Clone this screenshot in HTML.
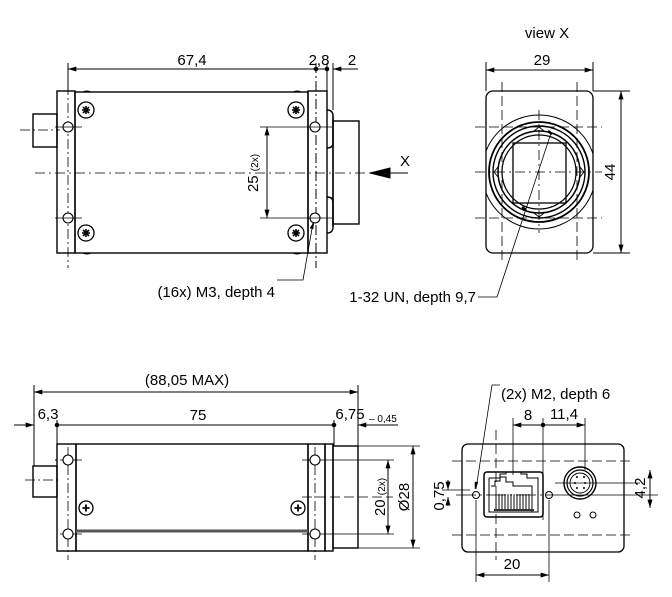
<!DOCTYPE html>
<html><head><meta charset="utf-8"><style>
html,body{margin:0;padding:0;background:#fff;}
svg{display:block}
text{font-family:"Liberation Sans","DejaVu Sans",sans-serif;fill:#000;}
</style></head><body>
<svg width="672" height="597" viewBox="0 0 672 597" xmlns="http://www.w3.org/2000/svg">
<defs>
<marker id="ar" viewBox="0 0 10 6" refX="10" refY="3" markerWidth="14" markerHeight="5" markerUnits="userSpaceOnUse" orient="auto-start-reverse"><path d="M0,0L10,3L0,6z" fill="#000"/></marker>
<g id="scr"><circle r="8" fill="#fff" stroke="#000" stroke-width="1.3"/><path d="M-4,0H4M0,-4V4M-3,-3L3,3M-3,3L3,-3" stroke="#000" stroke-width="1.6"/></g>
<g id="scr2"><circle r="7" fill="#fff" stroke="#000" stroke-width="1.3"/><path d="M-3.5,0H3.5M0,-3.5V3.5" stroke="#000" stroke-width="1.8"/></g>
</defs>
<g fill="none" stroke="#000" stroke-width="1">
<!-- ===== TOP LEFT ===== -->
<line x1="68" y1="69" x2="316" y2="69" marker-start="url(#ar)"/>
<line x1="316" y1="69" x2="327" y2="69"/>
<line x1="333" y1="69" x2="358" y2="69" marker-start="url(#ar)"/>
<line x1="68" y1="63" x2="68" y2="90"/>
<line x1="316" y1="63" x2="316" y2="268" stroke-dasharray="10,3,2,3"/>
<line x1="327" y1="63" x2="327" y2="91"/>
<line x1="333" y1="63" x2="333" y2="110"/>
<circle cx="316" cy="69" r="1.8" fill="#000"/><circle cx="327" cy="69" r="1.8" fill="#000"/>
<line x1="68" y1="85" x2="68" y2="268" stroke-dasharray="10,3,2,3" stroke-width="0.8"/>
<g stroke-width="1.4">
<rect x="57" y="91" width="18" height="162"/>
<rect x="75" y="92" width="233" height="161"/>
<rect x="308" y="91" width="19" height="162"/>
<path d="M327,110 q6,0 6,6 V143 q0,5 -6,5"/>
<path d="M327,197 q6,0 6,5 V227 q0,6 -6,6"/>
<line x1="333" y1="116" x2="333" y2="227"/>
<rect x="333" y="121" width="26" height="103"/>
<rect x="33" y="114" width="24" height="33"/>
</g>
<path d="M83,92 q4,-2 8,0 M293,92 q4,-2 8,0 M83,253 q4,2 8,0 M293,253 q4,2 8,0" stroke-width="1"/>
<line x1="20" y1="130" x2="60" y2="130" stroke-dasharray="10,3,2,3" stroke-width="0.8"/>
<g stroke-width="1.1"><circle cx="68" cy="127" r="5" fill="#fff"/><circle cx="68" cy="218" r="5" fill="#fff"/><circle cx="315" cy="127" r="5" fill="#fff"/><circle cx="315" cy="218" r="5" fill="#fff"/></g>
<g stroke-width="0.8"><line x1="55" y1="127" x2="82" y2="127"/><line x1="55" y1="218" x2="82" y2="218"/></g>
<use href="#scr" x="86" y="110"/><use href="#scr" x="86" y="233"/><use href="#scr" x="296" y="110"/><use href="#scr" x="296" y="233"/>
<line x1="35" y1="173" x2="370" y2="173" stroke-dasharray="10,4,2,4" stroke-width="0.8"/>
<line x1="390" y1="173" x2="408" y2="173"/>
<path d="M370,173 L390,168 L390,178z" fill="#000"/>
<line x1="260" y1="127" x2="332" y2="127" stroke-width="0.8"/>
<line x1="260" y1="218" x2="332" y2="218" stroke-width="0.8"/>
<line x1="267" y1="127" x2="267" y2="218" marker-start="url(#ar)" marker-end="url(#ar)"/>
<path d="M313,223 L303,280 L277,280" stroke-width="0.8"/>
<path d="M314,222 l-4,6 l3,1z" fill="#000" stroke-width="0.5"/>

<!-- ===== TOP RIGHT ===== -->
<line x1="486" y1="70" x2="593" y2="70" marker-start="url(#ar)" marker-end="url(#ar)"/>
<line x1="486" y1="62" x2="486" y2="91"/><line x1="593" y1="62" x2="593" y2="91"/>
<rect x="486" y="91" width="107" height="162" rx="7" stroke-width="1.3"/>
<g stroke-dasharray="10,4" stroke-width="0.8">
<line x1="502" y1="82" x2="502" y2="262"/><line x1="577" y1="82" x2="577" y2="262"/>
<line x1="475" y1="127" x2="602" y2="127"/><line x1="475" y1="218" x2="602" y2="218"/>
</g>
<clipPath id="cb"><rect x="486" y="91" width="107" height="162"/></clipPath>
<circle cx="539" cy="172" r="57" clip-path="url(#cb)" stroke-width="1"/>
<circle cx="539" cy="172" r="50" stroke-width="1.8"/>
<circle cx="539" cy="172" r="46" stroke-width="1.4"/>
<rect x="513" y="143" width="53" height="60" stroke-width="1.3"/>
<circle cx="539" cy="172" r="41" stroke-width="1.5"/>
<circle cx="539" cy="172" r="37" stroke-width="1.2"/>
<path d="M534,131 l5,-4 l5,4 M534,213 l5,4 l5,-4 M498,167 l-4,5 l4,5 M580,167 l4,5 l-4,5" stroke-width="0.9"/>
<g stroke-dasharray="10,4,2,4" stroke-width="0.8">
<line x1="475" y1="172" x2="602" y2="172"/><line x1="539" y1="110" x2="539" y2="233"/>
</g>
<line x1="593" y1="91" x2="630" y2="91"/><line x1="593" y1="253" x2="630" y2="253"/>
<line x1="621" y1="91" x2="621" y2="253" marker-start="url(#ar)" marker-end="url(#ar)"/>
<path d="M551,133 L497,297 L478,297" stroke-width="0.8"/>
<path d="M548,131 l4,3 M522,207 l4,3" stroke-width="2.5"/>

<!-- ===== BOTTOM LEFT ===== -->
<line x1="34" y1="392" x2="358" y2="392" marker-start="url(#ar)" marker-end="url(#ar)"/>
<line x1="34" y1="385" x2="34" y2="466"/>
<line x1="358" y1="385" x2="358" y2="446"/>
<line x1="14" y1="425" x2="34" y2="425" marker-end="url(#ar)"/>
<line x1="57" y1="425" x2="334" y2="425"/>
<line x1="358" y1="425" x2="398" y2="425" marker-start="url(#ar)"/>
<circle cx="57" cy="425" r="1.8" fill="#000"/><circle cx="334" cy="425" r="1.8" fill="#000"/>
<line x1="57" y1="420" x2="57" y2="444"/><line x1="334" y1="420" x2="334" y2="446"/>
<g stroke-width="1.4">
<rect x="57" y="444" width="19" height="107"/>
<rect x="76" y="444" width="232" height="107"/>
<rect x="308" y="444" width="17" height="107"/>
<rect x="325" y="444" width="8" height="107"/>
<rect x="333" y="446" width="25" height="102"/>
<rect x="33" y="466" width="24" height="31"/>
</g>
<line x1="55" y1="460" x2="57" y2="460"/>
<line x1="76" y1="531" x2="308" y2="531" stroke="#555" stroke-width="3"/>
<line x1="25" y1="480" x2="60" y2="480" stroke-dasharray="10,3,2,3" stroke-width="0.8"/>
<g stroke-width="0.8" stroke-dasharray="10,3,2,3"><line x1="68" y1="447" x2="68" y2="560"/><line x1="315" y1="447" x2="315" y2="560"/></g>
<g stroke-width="0.8"><line x1="60" y1="460" x2="82" y2="460"/><line x1="60" y1="534" x2="82" y2="534"/><line x1="302" y1="460" x2="394" y2="460"/><line x1="302" y1="534" x2="394" y2="534"/></g>
<g stroke-width="1.1"><circle cx="68" cy="460" r="5" fill="#fff"/><circle cx="68" cy="534" r="5" fill="#fff"/><circle cx="315" cy="460" r="5" fill="#fff"/><circle cx="315" cy="534" r="5" fill="#fff"/></g>
<use href="#scr2" x="86" y="508"/><use href="#scr2" x="298" y="508"/>
<line x1="302" y1="497" x2="393" y2="497" stroke-dasharray="10,4" stroke-width="0.8"/>
<line x1="388" y1="460" x2="388" y2="534" marker-start="url(#ar)" marker-end="url(#ar)"/>
<line x1="358" y1="446" x2="420" y2="446" stroke-width="0.8"/><line x1="358" y1="548" x2="420" y2="548" stroke-width="0.8"/>
<line x1="413" y1="446" x2="413" y2="548" marker-start="url(#ar)" marker-end="url(#ar)"/>

<!-- ===== BOTTOM RIGHT ===== -->
<rect x="462" y="444" width="162" height="108" rx="6" stroke-width="1.3"/>
<g stroke-dasharray="10,4" stroke-width="0.8">
<line x1="452" y1="461" x2="634" y2="461"/><line x1="452" y1="535" x2="634" y2="535"/>
<line x1="496" y1="430" x2="496" y2="560"/>
</g>
<line x1="513" y1="418" x2="513" y2="475" stroke-width="0.8"/>
<line x1="543" y1="418" x2="543" y2="520" stroke-width="0.8"/>
<line x1="585" y1="418" x2="585" y2="470" stroke-width="0.8"/>
<line x1="513" y1="425" x2="543" y2="425" marker-start="url(#ar)"/>
<line x1="543" y1="425" x2="585" y2="425" marker-end="url(#ar)"/>
<circle cx="543" cy="425" r="1.8" fill="#000"/>
<rect x="484" y="472" width="59" height="45" rx="3" stroke-width="1.5"/>
<path d="M489,478 H500 V474 H506 V472 M489,478 V512 H538 V478 H527 V474 H521 V472 M500,477 H506 V482 H513 V486 H532 V512 M500,477 v4 h-5 v5 h-4" stroke-width="1"/>
<g stroke="#333" stroke-width="1.2">
<path d="M496,494 V510 M499,494 V510 M502,494 V510 M505,494 V510 M508,494 V510 M511,494 V510 M514,494 V510 M517,494 V510 M520,494 V510 M523,494 V510 M526,494 V510 M529,494 V510 M532,494 V510"/>
<line x1="494" y1="510" x2="534" y2="510" stroke-width="2"/>
</g>
<circle cx="476" cy="495" r="3.5"/><circle cx="549" cy="495" r="3.5"/>
<line x1="456" y1="495" x2="560" y2="495" stroke-width="0.8" stroke-dasharray="20,4,2,4"/>
<line x1="476" y1="500" x2="476" y2="582" stroke-width="0.8"/>
<line x1="549" y1="500" x2="549" y2="582" stroke-width="0.8"/>
<line x1="476" y1="575" x2="549" y2="575" marker-start="url(#ar)" marker-end="url(#ar)"/>
<circle cx="580" cy="483" r="16" stroke-width="1.4"/>
<circle cx="580" cy="483" r="13" stroke-width="1.2"/>
<circle cx="580" cy="483" r="10" stroke-width="0.9"/>
<g fill="#000" stroke="none"><circle cx="577" cy="477" r="1"/><circle cx="584" cy="477" r="1"/><circle cx="575" cy="483" r="1"/><circle cx="585" cy="483" r="1"/><circle cx="577" cy="488" r="1"/><circle cx="584" cy="488" r="1"/></g>
<line x1="555" y1="483" x2="640" y2="483" stroke-width="0.8"/>
<circle cx="577" cy="515" r="3"/><circle cx="593" cy="515" r="3"/>
<line x1="650" y1="483" x2="650" y2="470" marker-end="url(#ar)"/>
<line x1="650" y1="495" x2="650" y2="508" marker-end="url(#ar)"/>
<line x1="650" y1="483" x2="650" y2="495"/>
<line x1="560" y1="495" x2="658" y2="495" stroke-width="0.8"/>
<line x1="448" y1="480" x2="448" y2="490" marker-end="url(#ar)"/>
<line x1="448" y1="506" x2="448" y2="497" marker-end="url(#ar)"/>
<line x1="442" y1="490" x2="470" y2="490" stroke-width="0.8"/>
<path d="M476,489 L492,385 L500,385" stroke-width="0.8"/>
<path d="M475,489 l0,-7 l3,0.5z" fill="#000" stroke-width="0.5"/>
</g>

<g font-size="15">
<text x="192" y="65" text-anchor="middle">67,4</text>
<text x="319" y="65" text-anchor="middle">2,8</text>
<text x="352" y="65" text-anchor="middle">2</text>
<text x="405" y="166" text-anchor="middle">X</text>
<text x="258" y="173" transform="rotate(-90 258 173)" text-anchor="middle" dominant-baseline="auto"><tspan>25 </tspan><tspan font-size="10">(2x)</tspan></text>
<text x="275" y="297" text-anchor="end">(16x) M3, depth 4</text>
<text x="547" y="38" text-anchor="middle">view X</text>
<text x="542" y="65" text-anchor="middle">29</text>
<text x="615" y="172" transform="rotate(-90 615 172)" text-anchor="middle">44</text>
<text x="476" y="302" text-anchor="end">1-32 UN, depth 9,7</text>
<text x="187" y="385" text-anchor="middle">(88,05 MAX)</text>
<text x="48" y="419" text-anchor="middle">6,3</text>
<text x="198" y="420" text-anchor="middle">75</text>
<text x="350" y="419" text-anchor="middle">6,75</text>
<text x="369" y="422" font-size="10">– 0,45</text>
<text x="385" y="497" transform="rotate(-90 385 497)" text-anchor="middle"><tspan>20 </tspan><tspan font-size="10">(2x)</tspan></text>
<text x="409" y="497" transform="rotate(-90 409 497)" text-anchor="middle">Ø28</text>
<text x="444" y="496" transform="rotate(-90 444 496)" text-anchor="middle">0,75</text>
<text x="501" y="399">(2x) M2, depth 6</text>
<text x="528" y="420" text-anchor="middle">8</text>
<text x="564" y="419" text-anchor="middle">11,4</text>
<text x="512" y="569" text-anchor="middle">20</text>
<text x="645" y="488" transform="rotate(-90 645 488)" text-anchor="middle">4,2</text>
</g>
</svg>
</body></html>
